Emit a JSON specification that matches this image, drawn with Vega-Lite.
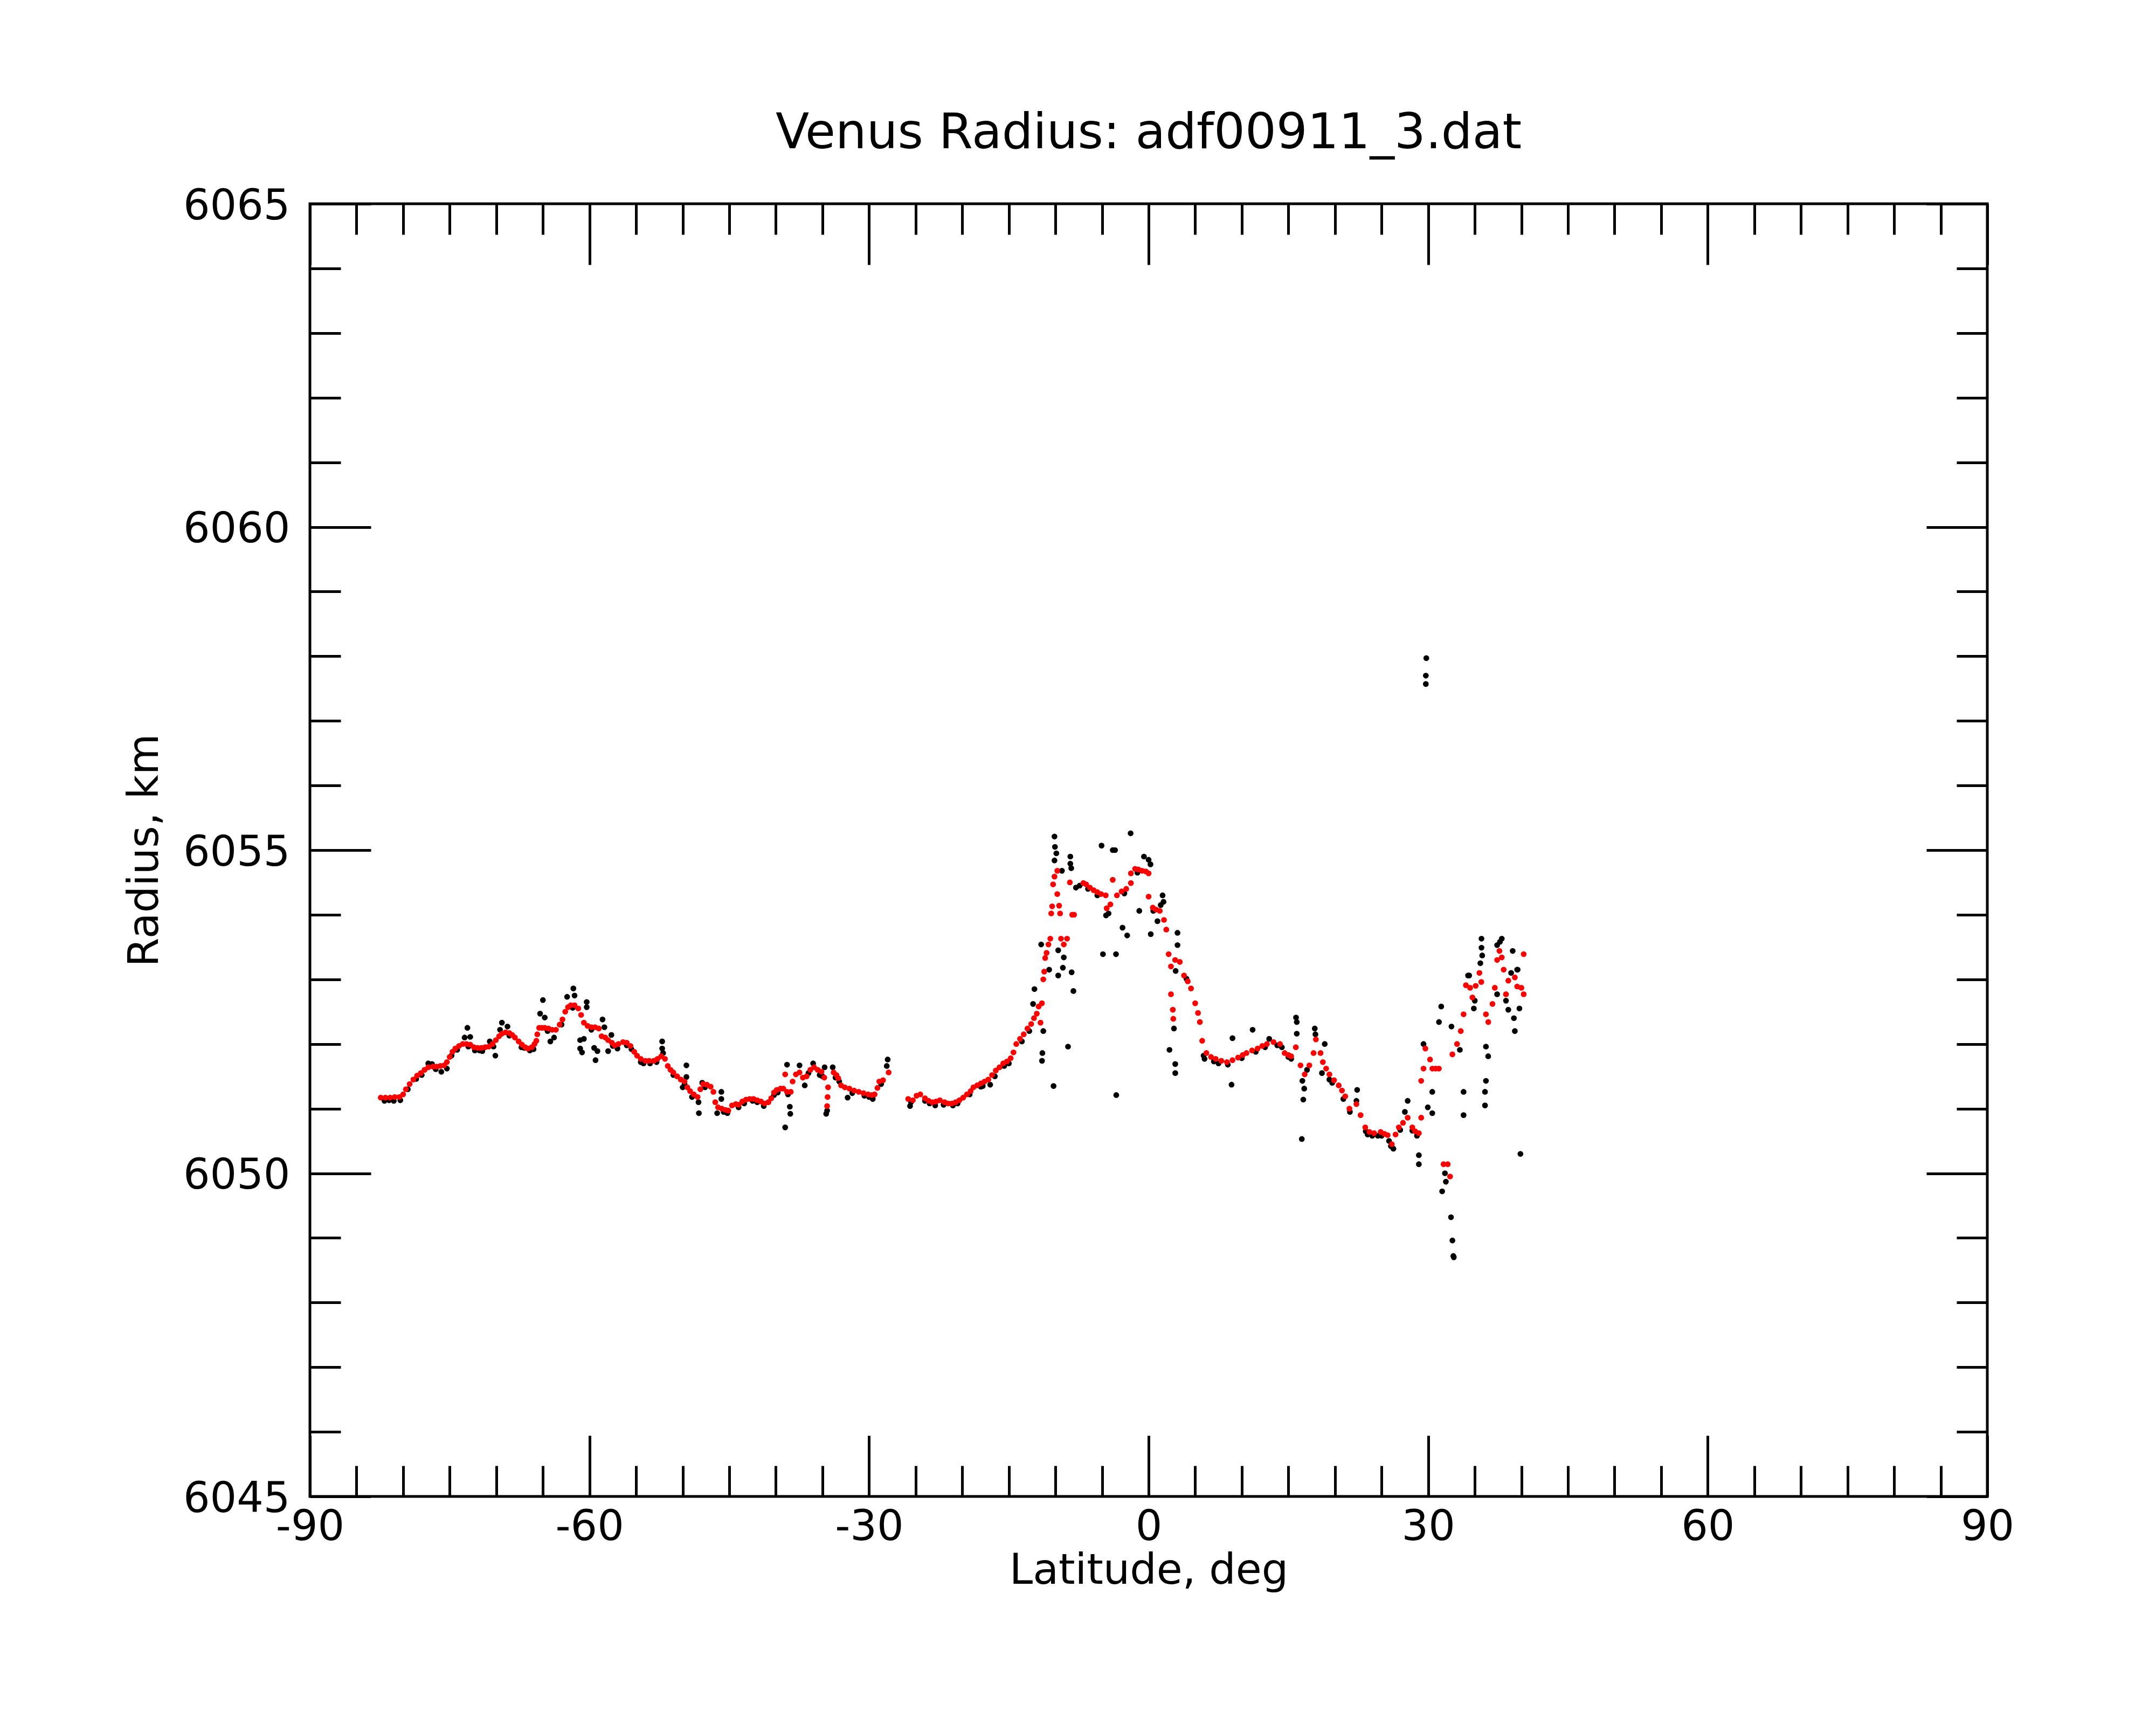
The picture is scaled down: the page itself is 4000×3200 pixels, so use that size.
{
  "$schema": "https://vega.github.io/schema/vega-lite/v6.json",
  "autosize": "none",
  "width": 3112,
  "height": 2398,
  "padding": {"left": 575, "top": 378, "right": 313, "bottom": 424},
  "title": {
    "text": "Venus Radius: adf00911_3.dat",
    "fontSize": 91,
    "font": "DejaVu Sans",
    "fontWeight": "normal",
    "color": "black",
    "anchor": "middle",
    "baseline": "alphabetic",
    "offset": -22
  },
  "datasets": {
    "raw": [
      {"lat": -82.0, "r": 6051.12}, {"lat": -81.5, "r": 6051.13}, {"lat": -81.0, "r": 6051.12}, {"lat": -80.3, "r": 6051.13},
      {"lat": -79.5, "r": 6051.3}, {"lat": -78.6, "r": 6051.46}, {"lat": -78.0, "r": 6051.52}, {"lat": -77.3, "r": 6051.7},
      {"lat": -76.9, "r": 6051.69}, {"lat": -76.5, "r": 6051.61}, {"lat": -75.9, "r": 6051.57}, {"lat": -75.3, "r": 6051.62},
      {"lat": -74.8, "r": 6051.82}, {"lat": -74.2, "r": 6051.91}, {"lat": -73.4, "r": 6052.1}, {"lat": -73.1, "r": 6052.25},
      {"lat": -73.0, "r": 6051.96}, {"lat": -72.8, "r": 6052.11}, {"lat": -72.3, "r": 6051.9}, {"lat": -71.8, "r": 6051.9},
      {"lat": -71.5, "r": 6051.89}, {"lat": -70.7, "r": 6052.04}, {"lat": -70.3, "r": 6051.96}, {"lat": -70.1, "r": 6051.82},
      {"lat": -69.6, "r": 6052.22}, {"lat": -69.4, "r": 6052.33}, {"lat": -68.8, "r": 6052.27}, {"lat": -68.6, "r": 6052.13},
      {"lat": -67.3, "r": 6051.95}, {"lat": -67.0, "r": 6051.94}, {"lat": -66.4, "r": 6051.9}, {"lat": -66.0, "r": 6051.92},
      {"lat": -65.3, "r": 6052.47}, {"lat": -65.0, "r": 6052.68}, {"lat": -64.8, "r": 6052.41}, {"lat": -64.5, "r": 6052.2},
      {"lat": -64.2, "r": 6052.04}, {"lat": -63.8, "r": 6052.1}, {"lat": -63.0, "r": 6052.3}, {"lat": -62.4, "r": 6052.73},
      {"lat": -61.8, "r": 6052.56}, {"lat": -61.73, "r": 6052.86}, {"lat": -61.6, "r": 6052.75}, {"lat": -61.0, "r": 6051.93},
      {"lat": -61.0, "r": 6052.06}, {"lat": -60.8, "r": 6051.87}, {"lat": -60.6, "r": 6052.08}, {"lat": -60.3, "r": 6052.65},
      {"lat": -60.3, "r": 6052.57}, {"lat": -59.8, "r": 6052.22}, {"lat": -59.5, "r": 6051.94}, {"lat": -59.35, "r": 6051.75},
      {"lat": -59.15, "r": 6051.89}, {"lat": -58.6, "r": 6052.38}, {"lat": -58.4, "r": 6052.26}, {"lat": -58.0, "r": 6051.89},
      {"lat": -57.65, "r": 6052.14}, {"lat": -57.5, "r": 6051.97}, {"lat": -57.0, "r": 6051.93}, {"lat": -56.0, "r": 6051.98},
      {"lat": -55.5, "r": 6051.92}, {"lat": -54.5, "r": 6051.72}, {"lat": -54.2, "r": 6051.7}, {"lat": -53.5, "r": 6051.7},
      {"lat": -52.8, "r": 6051.72}, {"lat": -52.2, "r": 6052.04}, {"lat": -52.2, "r": 6051.93}, {"lat": -52.1, "r": 6051.86},
      {"lat": -51.0, "r": 6051.52}, {"lat": -50.0, "r": 6051.33}, {"lat": -49.8, "r": 6051.38}, {"lat": -49.6, "r": 6051.67},
      {"lat": -49.6, "r": 6051.49}, {"lat": -49.0, "r": 6051.18}, {"lat": -48.3, "r": 6051.1}, {"lat": -48.26, "r": 6050.93},
      {"lat": -47.9, "r": 6051.4}, {"lat": -47.6, "r": 6051.33}, {"lat": -46.3, "r": 6050.93}, {"lat": -45.85, "r": 6051.26},
      {"lat": -45.85, "r": 6051.15}, {"lat": -45.6, "r": 6050.95}, {"lat": -45.2, "r": 6050.93}, {"lat": -44.0, "r": 6051.02},
      {"lat": -43.4, "r": 6051.08}, {"lat": -42.5, "r": 6051.12}, {"lat": -42.0, "r": 6051.1}, {"lat": -41.3, "r": 6051.04},
      {"lat": -40.2, "r": 6051.21}, {"lat": -39.8, "r": 6051.25}, {"lat": -39.0, "r": 6050.71}, {"lat": -38.8, "r": 6051.68},
      {"lat": -38.7, "r": 6051.22}, {"lat": -38.5, "r": 6051.03}, {"lat": -38.45, "r": 6050.92}, {"lat": -37.46, "r": 6051.67},
      {"lat": -36.9, "r": 6051.36}, {"lat": -36.5, "r": 6051.55}, {"lat": -36.0, "r": 6051.7}, {"lat": -35.3, "r": 6051.52},
      {"lat": -35.0, "r": 6051.5}, {"lat": -34.77, "r": 6051.64}, {"lat": -34.6, "r": 6050.92}, {"lat": -34.5, "r": 6050.97},
      {"lat": -33.9, "r": 6051.64}, {"lat": -33.6, "r": 6051.48}, {"lat": -33.2, "r": 6051.42}, {"lat": -32.3, "r": 6051.17},
      {"lat": -31.8, "r": 6051.24}, {"lat": -30.5, "r": 6051.2}, {"lat": -30.0, "r": 6051.18}, {"lat": -29.6, "r": 6051.15},
      {"lat": -28.7, "r": 6051.38}, {"lat": -28.1, "r": 6051.66}, {"lat": -28.0, "r": 6051.76},
      {"lat": -25.6, "r": 6051.04}, {"lat": -25.5, "r": 6051.1}, {"lat": -24.0, "r": 6051.12}, {"lat": -23.5, "r": 6051.08},
      {"lat": -22.9, "r": 6051.05}, {"lat": -22.0, "r": 6051.06}, {"lat": -21.0, "r": 6051.05}, {"lat": -20.5, "r": 6051.08},
      {"lat": -19.2, "r": 6051.22}, {"lat": -18.0, "r": 6051.34}, {"lat": -17.8, "r": 6051.35}, {"lat": -17.0, "r": 6051.37},
      {"lat": -16.5, "r": 6051.5}, {"lat": -15.5, "r": 6051.66}, {"lat": -15.0, "r": 6051.7}, {"lat": -13.6, "r": 6052.04},
      {"lat": -12.8, "r": 6052.2}, {"lat": -12.4, "r": 6052.62}, {"lat": -12.25, "r": 6052.85}, {"lat": -11.53, "r": 6053.54},
      {"lat": -11.4, "r": 6051.86}, {"lat": -11.44, "r": 6051.74}, {"lat": -11.3, "r": 6052.2}, {"lat": -10.67, "r": 6053.15},
      {"lat": -10.2, "r": 6051.35}, {"lat": -10.1, "r": 6055.21}, {"lat": -10.05, "r": 6055.05}, {"lat": -9.9, "r": 6054.95},
      {"lat": -10.1, "r": 6054.84}, {"lat": -9.7, "r": 6053.45}, {"lat": -9.7, "r": 6053.06}, {"lat": -9.3, "r": 6054.68},
      {"lat": -9.1, "r": 6053.34}, {"lat": -9.2, "r": 6053.18}, {"lat": -8.65, "r": 6051.96}, {"lat": -8.4, "r": 6054.9},
      {"lat": -8.4, "r": 6054.79}, {"lat": -8.3, "r": 6054.72}, {"lat": -8.26, "r": 6053.11}, {"lat": -8.07, "r": 6052.82},
      {"lat": -7.8, "r": 6054.42}, {"lat": -7.4, "r": 6054.45}, {"lat": -6.5, "r": 6054.4}, {"lat": -5.5, "r": 6054.3},
      {"lat": -5.05, "r": 6055.07}, {"lat": -4.9, "r": 6053.39}, {"lat": -4.57, "r": 6053.99}, {"lat": -4.3, "r": 6054.02},
      {"lat": -3.85, "r": 6055.0}, {"lat": -3.6, "r": 6055.0}, {"lat": -3.5, "r": 6053.39}, {"lat": -3.47, "r": 6051.21},
      {"lat": -2.8, "r": 6053.8}, {"lat": -2.6, "r": 6054.33}, {"lat": -2.3, "r": 6053.68}, {"lat": -1.93, "r": 6055.26},
      {"lat": -1.2, "r": 6054.65}, {"lat": -1.0, "r": 6054.06}, {"lat": -0.5, "r": 6054.9}, {"lat": 0.0, "r": 6054.85},
      {"lat": 0.2, "r": 6054.78}, {"lat": 0.23, "r": 6053.7}, {"lat": 0.5, "r": 6054.06}, {"lat": 0.95, "r": 6053.9},
      {"lat": 1.3, "r": 6054.15}, {"lat": 1.5, "r": 6054.3}, {"lat": 1.6, "r": 6054.2}, {"lat": 2.24, "r": 6051.91},
      {"lat": 2.72, "r": 6052.24}, {"lat": 2.86, "r": 6051.69}, {"lat": 2.86, "r": 6051.55}, {"lat": 2.9, "r": 6053.13},
      {"lat": 3.1, "r": 6053.72}, {"lat": 3.1, "r": 6053.53}, {"lat": 4.06, "r": 6053.01}, {"lat": 5.9, "r": 6051.82},
      {"lat": 6.0, "r": 6051.77}, {"lat": 7.0, "r": 6051.73}, {"lat": 7.5, "r": 6051.7}, {"lat": 8.5, "r": 6051.68},
      {"lat": 8.9, "r": 6051.37}, {"lat": 9.0, "r": 6052.09}, {"lat": 10.0, "r": 6051.78}, {"lat": 11.16, "r": 6052.22},
      {"lat": 11.5, "r": 6051.88}, {"lat": 12.5, "r": 6051.95}, {"lat": 12.94, "r": 6052.08}, {"lat": 13.8, "r": 6051.98},
      {"lat": 14.3, "r": 6051.95}, {"lat": 15.0, "r": 6051.8}, {"lat": 15.3, "r": 6051.77}, {"lat": 15.82, "r": 6052.41},
      {"lat": 15.9, "r": 6052.34}, {"lat": 15.9, "r": 6052.16}, {"lat": 16.5, "r": 6051.43}, {"lat": 16.7, "r": 6051.31},
      {"lat": 16.6, "r": 6051.14}, {"lat": 16.44, "r": 6050.53}, {"lat": 17.0, "r": 6051.6}, {"lat": 17.83, "r": 6052.24},
      {"lat": 17.9, "r": 6052.15}, {"lat": 18.6, "r": 6051.55}, {"lat": 18.9, "r": 6052.0}, {"lat": 19.4, "r": 6051.45},
      {"lat": 19.7, "r": 6051.4}, {"lat": 20.9, "r": 6051.15}, {"lat": 21.6, "r": 6050.95}, {"lat": 22.3, "r": 6051.12},
      {"lat": 22.38, "r": 6051.29}, {"lat": 23.3, "r": 6050.65}, {"lat": 23.5, "r": 6050.6}, {"lat": 24.0, "r": 6050.58},
      {"lat": 24.6, "r": 6050.58}, {"lat": 25.0, "r": 6050.58}, {"lat": 25.8, "r": 6050.5}, {"lat": 26.0, "r": 6050.42},
      {"lat": 26.27, "r": 6050.38}, {"lat": 27.0, "r": 6050.67}, {"lat": 27.5, "r": 6050.95}, {"lat": 27.8, "r": 6051.12},
      {"lat": 28.3, "r": 6050.66}, {"lat": 28.8, "r": 6050.58}, {"lat": 29.0, "r": 6050.28}, {"lat": 29.0, "r": 6050.14},
      {"lat": 29.8, "r": 6057.97}, {"lat": 29.75, "r": 6057.7}, {"lat": 29.75, "r": 6057.57}, {"lat": 29.5, "r": 6052.0},
      {"lat": 29.96, "r": 6051.02}, {"lat": 30.44, "r": 6050.93}, {"lat": 30.44, "r": 6051.26}, {"lat": 31.16, "r": 6052.34},
      {"lat": 31.4, "r": 6052.58}, {"lat": 32.5, "r": 6052.27}, {"lat": 31.5, "r": 6049.72}, {"lat": 31.9, "r": 6049.87},
      {"lat": 31.8, "r": 6050.0}, {"lat": 32.45, "r": 6049.32}, {"lat": 32.6, "r": 6048.96}, {"lat": 32.7, "r": 6048.72},
      {"lat": 32.75, "r": 6048.7}, {"lat": 33.4, "r": 6051.91}, {"lat": 33.8, "r": 6051.26}, {"lat": 33.8, "r": 6050.9},
      {"lat": 34.28, "r": 6053.06}, {"lat": 34.4, "r": 6053.06}, {"lat": 35.0, "r": 6052.67}, {"lat": 34.9, "r": 6052.55},
      {"lat": 35.72, "r": 6053.63}, {"lat": 35.72, "r": 6053.49}, {"lat": 35.8, "r": 6053.37}, {"lat": 35.6, "r": 6053.25},
      {"lat": 36.2, "r": 6051.96}, {"lat": 36.2, "r": 6051.43}, {"lat": 36.1, "r": 6051.26}, {"lat": 36.1, "r": 6051.05},
      {"lat": 36.44, "r": 6051.81}, {"lat": 37.4, "r": 6053.53}, {"lat": 37.9, "r": 6053.63}, {"lat": 37.7, "r": 6053.58},
      {"lat": 37.4, "r": 6052.77}, {"lat": 38.35, "r": 6052.67}, {"lat": 38.6, "r": 6052.53}, {"lat": 38.9, "r": 6053.1},
      {"lat": 39.07, "r": 6053.44}, {"lat": 39.2, "r": 6052.4}, {"lat": 39.3, "r": 6052.2}, {"lat": 39.55, "r": 6053.15},
      {"lat": 39.6, "r": 6053.15}, {"lat": 39.79, "r": 6052.55}, {"lat": 39.9, "r": 6050.3}
    ],
    "smooth": [
      {"lat": -82.4, "r": 6051.17}, {"lat": -81.9, "r": 6051.17}, {"lat": -81.4, "r": 6051.17}, {"lat": -80.9, "r": 6051.18},
      {"lat": -80.4, "r": 6051.18}, {"lat": -80.0, "r": 6051.22}, {"lat": -79.7, "r": 6051.3}, {"lat": -79.3, "r": 6051.38},
      {"lat": -78.9, "r": 6051.45}, {"lat": -78.5, "r": 6051.51}, {"lat": -78.1, "r": 6051.55}, {"lat": -77.7, "r": 6051.6},
      {"lat": -77.3, "r": 6051.64}, {"lat": -76.8, "r": 6051.65}, {"lat": -76.4, "r": 6051.65}, {"lat": -76.0, "r": 6051.66},
      {"lat": -75.6, "r": 6051.67}, {"lat": -75.3, "r": 6051.72}, {"lat": -75.0, "r": 6051.8}, {"lat": -74.7, "r": 6051.88},
      {"lat": -74.4, "r": 6051.93}, {"lat": -74.0, "r": 6051.97}, {"lat": -73.6, "r": 6052.0}, {"lat": -73.2, "r": 6052.0},
      {"lat": -72.8, "r": 6051.99}, {"lat": -72.4, "r": 6051.95}, {"lat": -72.0, "r": 6051.94}, {"lat": -71.6, "r": 6051.94},
      {"lat": -71.2, "r": 6051.95}, {"lat": -70.8, "r": 6051.96}, {"lat": -70.4, "r": 6052.0}, {"lat": -70.05, "r": 6052.06},
      {"lat": -69.7, "r": 6052.12}, {"lat": -69.4, "r": 6052.16}, {"lat": -69.0, "r": 6052.18}, {"lat": -68.6, "r": 6052.17},
      {"lat": -68.3, "r": 6052.14}, {"lat": -68.0, "r": 6052.1}, {"lat": -67.6, "r": 6052.04}, {"lat": -67.25, "r": 6051.99},
      {"lat": -66.9, "r": 6051.95}, {"lat": -66.6, "r": 6051.93}, {"lat": -66.2, "r": 6051.95}, {"lat": -65.9, "r": 6052.0},
      {"lat": -65.7, "r": 6052.05}, {"lat": -65.6, "r": 6052.15}, {"lat": -65.4, "r": 6052.25}, {"lat": -65.1, "r": 6052.25},
      {"lat": -64.8, "r": 6052.25}, {"lat": -64.4, "r": 6052.24}, {"lat": -64.0, "r": 6052.22}, {"lat": -63.6, "r": 6052.22},
      {"lat": -63.2, "r": 6052.3}, {"lat": -62.9, "r": 6052.38}, {"lat": -62.6, "r": 6052.5}, {"lat": -62.3, "r": 6052.57},
      {"lat": -62.0, "r": 6052.6}, {"lat": -61.6, "r": 6052.6}, {"lat": -61.2, "r": 6052.55}, {"lat": -60.9, "r": 6052.45},
      {"lat": -60.6, "r": 6052.33}, {"lat": -60.2, "r": 6052.28}, {"lat": -59.8, "r": 6052.26}, {"lat": -59.4, "r": 6052.26},
      {"lat": -59.0, "r": 6052.24}, {"lat": -58.7, "r": 6052.12}, {"lat": -58.3, "r": 6052.1}, {"lat": -58.0, "r": 6052.06},
      {"lat": -57.6, "r": 6052.02}, {"lat": -57.3, "r": 6051.98}, {"lat": -56.9, "r": 6052.0}, {"lat": -56.4, "r": 6052.03},
      {"lat": -56.0, "r": 6052.02}, {"lat": -55.6, "r": 6051.97}, {"lat": -55.2, "r": 6051.88}, {"lat": -54.9, "r": 6051.82},
      {"lat": -54.5, "r": 6051.77}, {"lat": -54.0, "r": 6051.74}, {"lat": -53.6, "r": 6051.74}, {"lat": -53.1, "r": 6051.74},
      {"lat": -52.7, "r": 6051.77}, {"lat": -52.3, "r": 6051.81}, {"lat": -51.9, "r": 6051.77}, {"lat": -51.6, "r": 6051.66},
      {"lat": -51.3, "r": 6051.6}, {"lat": -51.0, "r": 6051.56}, {"lat": -50.6, "r": 6051.5}, {"lat": -50.2, "r": 6051.45},
      {"lat": -49.8, "r": 6051.42}, {"lat": -49.5, "r": 6051.33}, {"lat": -49.2, "r": 6051.27}, {"lat": -48.8, "r": 6051.22},
      {"lat": -48.4, "r": 6051.18}, {"lat": -48.1, "r": 6051.3}, {"lat": -47.8, "r": 6051.38}, {"lat": -47.4, "r": 6051.37},
      {"lat": -47.0, "r": 6051.34}, {"lat": -46.7, "r": 6051.26}, {"lat": -46.5, "r": 6051.1}, {"lat": -46.2, "r": 6051.02},
      {"lat": -45.8, "r": 6051.0}, {"lat": -45.4, "r": 6050.98}, {"lat": -45.1, "r": 6050.97}, {"lat": -44.7, "r": 6051.05},
      {"lat": -44.3, "r": 6051.07}, {"lat": -44.0, "r": 6051.06}, {"lat": -43.6, "r": 6051.11}, {"lat": -43.2, "r": 6051.14},
      {"lat": -42.8, "r": 6051.15}, {"lat": -42.4, "r": 6051.15}, {"lat": -42.0, "r": 6051.13}, {"lat": -41.6, "r": 6051.11},
      {"lat": -41.2, "r": 6051.08}, {"lat": -40.8, "r": 6051.1}, {"lat": -40.5, "r": 6051.16}, {"lat": -40.2, "r": 6051.25},
      {"lat": -39.9, "r": 6051.29}, {"lat": -39.5, "r": 6051.31}, {"lat": -39.2, "r": 6051.31}, {"lat": -39.0, "r": 6051.53},
      {"lat": -38.8, "r": 6051.26}, {"lat": -38.4, "r": 6051.26}, {"lat": -38.2, "r": 6051.42}, {"lat": -37.85, "r": 6051.53},
      {"lat": -37.46, "r": 6051.56}, {"lat": -37.1, "r": 6051.48}, {"lat": -36.7, "r": 6051.5}, {"lat": -36.3, "r": 6051.6},
      {"lat": -35.9, "r": 6051.64}, {"lat": -35.5, "r": 6051.6}, {"lat": -35.1, "r": 6051.57}, {"lat": -34.8, "r": 6051.48},
      {"lat": -34.4, "r": 6051.33}, {"lat": -34.45, "r": 6051.18}, {"lat": -34.5, "r": 6051.04}, {"lat": -33.8, "r": 6051.56},
      {"lat": -33.5, "r": 6051.52}, {"lat": -33.3, "r": 6051.47}, {"lat": -33.0, "r": 6051.36}, {"lat": -32.6, "r": 6051.33},
      {"lat": -32.1, "r": 6051.31}, {"lat": -31.6, "r": 6051.28}, {"lat": -31.1, "r": 6051.26}, {"lat": -30.6, "r": 6051.24},
      {"lat": -30.1, "r": 6051.22}, {"lat": -29.7, "r": 6051.21}, {"lat": -29.4, "r": 6051.22}, {"lat": -29.1, "r": 6051.32},
      {"lat": -28.9, "r": 6051.42}, {"lat": -28.5, "r": 6051.44}, {"lat": -27.9, "r": 6051.56},
      {"lat": -25.8, "r": 6051.15}, {"lat": -25.3, "r": 6051.13}, {"lat": -24.9, "r": 6051.2}, {"lat": -24.5, "r": 6051.22},
      {"lat": -24.0, "r": 6051.16}, {"lat": -23.6, "r": 6051.12}, {"lat": -23.2, "r": 6051.1}, {"lat": -22.8, "r": 6051.11},
      {"lat": -22.4, "r": 6051.13}, {"lat": -21.9, "r": 6051.1}, {"lat": -21.5, "r": 6051.08}, {"lat": -21.1, "r": 6051.08},
      {"lat": -20.7, "r": 6051.1}, {"lat": -20.3, "r": 6051.13}, {"lat": -19.9, "r": 6051.17}, {"lat": -19.5, "r": 6051.22},
      {"lat": -19.1, "r": 6051.27}, {"lat": -18.8, "r": 6051.33}, {"lat": -18.4, "r": 6051.36}, {"lat": -18.0, "r": 6051.39},
      {"lat": -17.6, "r": 6051.42}, {"lat": -17.2, "r": 6051.45}, {"lat": -16.8, "r": 6051.52}, {"lat": -16.4, "r": 6051.59},
      {"lat": -16.0, "r": 6051.64}, {"lat": -15.6, "r": 6051.7}, {"lat": -15.2, "r": 6051.73}, {"lat": -14.8, "r": 6051.78},
      {"lat": -14.5, "r": 6051.87}, {"lat": -14.2, "r": 6052.0}, {"lat": -13.8, "r": 6052.08}, {"lat": -13.4, "r": 6052.15},
      {"lat": -13.0, "r": 6052.24}, {"lat": -12.6, "r": 6052.31}, {"lat": -12.3, "r": 6052.4}, {"lat": -12.0, "r": 6052.47},
      {"lat": -11.8, "r": 6052.58}, {"lat": -11.6, "r": 6052.33}, {"lat": -11.45, "r": 6052.63}, {"lat": -11.3, "r": 6053.0},
      {"lat": -11.2, "r": 6053.12}, {"lat": -11.1, "r": 6053.33}, {"lat": -10.95, "r": 6053.41}, {"lat": -10.75, "r": 6053.54},
      {"lat": -10.55, "r": 6053.63}, {"lat": -10.45, "r": 6054.02}, {"lat": -10.35, "r": 6054.13}, {"lat": -10.25, "r": 6054.47},
      {"lat": -10.1, "r": 6054.59}, {"lat": -9.8, "r": 6054.68}, {"lat": -9.8, "r": 6054.32}, {"lat": -9.6, "r": 6054.14},
      {"lat": -9.5, "r": 6054.02}, {"lat": -9.4, "r": 6053.63}, {"lat": -9.1, "r": 6053.54}, {"lat": -8.75, "r": 6053.63},
      {"lat": -8.45, "r": 6054.5}, {"lat": -8.2, "r": 6054.0}, {"lat": -8.0, "r": 6054.0}, {"lat": -7.0, "r": 6054.49},
      {"lat": -6.7, "r": 6054.47}, {"lat": -6.3, "r": 6054.42}, {"lat": -5.9, "r": 6054.38}, {"lat": -5.5, "r": 6054.35},
      {"lat": -5.1, "r": 6054.32}, {"lat": -4.6, "r": 6054.3}, {"lat": -4.5, "r": 6054.1}, {"lat": -4.1, "r": 6054.16},
      {"lat": -3.85, "r": 6054.54}, {"lat": -3.4, "r": 6054.3}, {"lat": -2.9, "r": 6054.36}, {"lat": -2.4, "r": 6054.4},
      {"lat": -1.9, "r": 6054.49}, {"lat": -1.9, "r": 6054.64}, {"lat": -1.45, "r": 6054.71}, {"lat": -1.1, "r": 6054.7},
      {"lat": -0.7, "r": 6054.68}, {"lat": -0.3, "r": 6054.67}, {"lat": 0.0, "r": 6054.64}, {"lat": 0.0, "r": 6054.28},
      {"lat": 0.45, "r": 6054.11}, {"lat": 0.8, "r": 6054.08}, {"lat": 1.2, "r": 6054.06}, {"lat": 1.65, "r": 6053.92},
      {"lat": 1.9, "r": 6053.77}, {"lat": 2.15, "r": 6053.39}, {"lat": 2.4, "r": 6053.2}, {"lat": 2.85, "r": 6053.3},
      {"lat": 3.35, "r": 6053.27}, {"lat": 2.4, "r": 6052.77}, {"lat": 2.6, "r": 6052.53}, {"lat": 2.65, "r": 6052.39},
      {"lat": 3.8, "r": 6053.06}, {"lat": 4.2, "r": 6052.97}, {"lat": 4.55, "r": 6052.86}, {"lat": 5.0, "r": 6052.63},
      {"lat": 5.3, "r": 6052.48}, {"lat": 5.5, "r": 6052.34}, {"lat": 5.75, "r": 6052.05}, {"lat": 6.2, "r": 6051.86},
      {"lat": 6.7, "r": 6051.8}, {"lat": 7.2, "r": 6051.77}, {"lat": 7.8, "r": 6051.74}, {"lat": 8.4, "r": 6051.72},
      {"lat": 9.0, "r": 6051.75}, {"lat": 9.6, "r": 6051.79}, {"lat": 10.1, "r": 6051.83}, {"lat": 10.5, "r": 6051.86},
      {"lat": 11.1, "r": 6051.9}, {"lat": 11.7, "r": 6051.93}, {"lat": 12.2, "r": 6051.97}, {"lat": 12.7, "r": 6052.0},
      {"lat": 13.4, "r": 6052.03}, {"lat": 14.1, "r": 6052.0}, {"lat": 14.6, "r": 6051.86}, {"lat": 15.0, "r": 6051.83},
      {"lat": 15.3, "r": 6051.81}, {"lat": 15.8, "r": 6051.95}, {"lat": 16.3, "r": 6051.67}, {"lat": 16.75, "r": 6051.53},
      {"lat": 17.25, "r": 6051.67}, {"lat": 17.7, "r": 6051.86}, {"lat": 17.95, "r": 6052.07}, {"lat": 18.45, "r": 6051.86},
      {"lat": 18.7, "r": 6051.72}, {"lat": 19.05, "r": 6051.62}, {"lat": 19.4, "r": 6051.53}, {"lat": 19.9, "r": 6051.44},
      {"lat": 20.4, "r": 6051.36}, {"lat": 20.75, "r": 6051.28}, {"lat": 21.1, "r": 6051.19}, {"lat": 21.55, "r": 6051.0},
      {"lat": 22.3, "r": 6051.07}, {"lat": 22.75, "r": 6050.9}, {"lat": 23.25, "r": 6050.71}, {"lat": 23.7, "r": 6050.64},
      {"lat": 24.2, "r": 6050.62}, {"lat": 24.9, "r": 6050.64}, {"lat": 25.3, "r": 6050.61}, {"lat": 25.65, "r": 6050.59},
      {"lat": 26.1, "r": 6050.45}, {"lat": 26.5, "r": 6050.6}, {"lat": 26.85, "r": 6050.71}, {"lat": 27.3, "r": 6050.78},
      {"lat": 27.8, "r": 6050.86}, {"lat": 28.3, "r": 6050.71}, {"lat": 28.6, "r": 6050.65}, {"lat": 29.0, "r": 6050.62},
      {"lat": 29.25, "r": 6050.86}, {"lat": 29.25, "r": 6051.43}, {"lat": 29.5, "r": 6051.62}, {"lat": 29.7, "r": 6051.93},
      {"lat": 30.2, "r": 6051.76}, {"lat": 30.45, "r": 6051.62}, {"lat": 30.8, "r": 6051.62}, {"lat": 31.15, "r": 6051.62},
      {"lat": 31.65, "r": 6050.14}, {"lat": 32.1, "r": 6050.14}, {"lat": 32.35, "r": 6049.95}, {"lat": 32.6, "r": 6051.84},
      {"lat": 33.1, "r": 6052.0}, {"lat": 33.5, "r": 6052.2}, {"lat": 33.8, "r": 6052.46}, {"lat": 34.05, "r": 6052.91},
      {"lat": 34.5, "r": 6052.87}, {"lat": 34.75, "r": 6052.72}, {"lat": 35.1, "r": 6052.9}, {"lat": 35.5, "r": 6053.1},
      {"lat": 35.7, "r": 6052.96}, {"lat": 36.2, "r": 6052.46}, {"lat": 36.45, "r": 6052.34}, {"lat": 36.9, "r": 6052.62},
      {"lat": 37.15, "r": 6052.87}, {"lat": 37.4, "r": 6053.3}, {"lat": 37.65, "r": 6053.44}, {"lat": 37.9, "r": 6053.34},
      {"lat": 38.1, "r": 6053.15}, {"lat": 38.35, "r": 6052.77}, {"lat": 38.6, "r": 6052.98}, {"lat": 39.3, "r": 6053.03},
      {"lat": 39.55, "r": 6052.89}, {"lat": 40.0, "r": 6052.87}, {"lat": 40.25, "r": 6053.39}, {"lat": 40.25, "r": 6052.77}
    ]
  },
  "resolve": {
    "scale": {"x": "shared", "y": "shared"},
    "axis": {"x": "independent", "y": "independent"}
  },
  "layer": [
    {
      "data": {"name": "raw"},
      "mark": {"type": "point", "filled": true, "shape": "circle", "size": 115, "color": "#000000", "opacity": 1},
      "encoding": {
        "x": {
          "field": "lat", "type": "quantitative",
          "scale": {"domain": [-90, 90], "nice": false, "zero": false},
          "axis": {
            "orient": "bottom", "values": [-90, -60, -30, 0, 30, 60, 90],
            "tickSize": -113, "labelPadding": 193, "labelBaseline": "alphabetic",
            "labelExpr": "'' + datum.value",
            "title": "Latitude, deg", "titleX": 1556, "titleY": 161,
            "titleAlign": "center", "titleBaseline": "alphabetic"
          }
        },
        "y": {
          "field": "r", "type": "quantitative",
          "scale": {"domain": [6045, 6065], "nice": false, "zero": false},
          "axis": {
            "orient": "left", "values": [6045, 6050, 6055, 6060, 6065],
            "tickSize": -113, "labelPadding": 150, "labelOffset": 5, "labelLimit": 1000,
            "labelExpr": "'' + datum.value",
            "title": "Radius, km", "titleX": -283, "titleY": 1199, "titleAngle": 270,
            "titleAlign": "center", "titleBaseline": "alphabetic"
          }
        }
      }
    },
    {
      "data": {"name": "smooth"},
      "mark": {"type": "point", "filled": true, "shape": "circle", "size": 115, "color": "#ff0000", "opacity": 1},
      "encoding": {
        "x": {
          "field": "lat", "type": "quantitative",
          "scale": {"domain": [-90, 90], "nice": false, "zero": false},
          "axis": {
            "orient": "bottom", "labels": false, "title": null, "tickSize": -57,
            "values": [-85, -80, -75, -70, -65, -55, -50, -45, -40, -35, -25, -20, -15, -10, -5, 5, 10, 15, 20, 25, 35, 40, 45, 50, 55, 65, 70, 75, 80, 85]
          }
        },
        "y": {
          "field": "r", "type": "quantitative",
          "scale": {"domain": [6045, 6065], "nice": false, "zero": false},
          "axis": {
            "orient": "left", "labels": false, "title": null, "tickSize": -57,
            "values": [6046, 6047, 6048, 6049, 6051, 6052, 6053, 6054, 6056, 6057, 6058, 6059, 6061, 6062, 6063, 6064]
          }
        }
      }
    },
    {
      "data": {"name": "smooth"},
      "mark": {"type": "point", "opacity": 0, "size": 0},
      "encoding": {
        "x": {
          "field": "lat", "type": "quantitative",
          "scale": {"domain": [-90, 90], "nice": false, "zero": false},
          "axis": {"orient": "top", "labels": false, "title": null, "tickSize": -113, "values": [-90, -60, -30, 0, 30, 60, 90]}
        },
        "y": {
          "field": "r", "type": "quantitative",
          "scale": {"domain": [6045, 6065], "nice": false, "zero": false},
          "axis": {"orient": "right", "labels": false, "title": null, "tickSize": -113, "values": [6045, 6050, 6055, 6060, 6065]}
        }
      }
    },
    {
      "data": {"name": "smooth"},
      "mark": {"type": "point", "opacity": 0, "size": 0},
      "encoding": {
        "x": {
          "field": "lat", "type": "quantitative",
          "scale": {"domain": [-90, 90], "nice": false, "zero": false},
          "axis": {
            "orient": "top", "labels": false, "title": null, "tickSize": -57,
            "values": [-85, -80, -75, -70, -65, -55, -50, -45, -40, -35, -25, -20, -15, -10, -5, 5, 10, 15, 20, 25, 35, 40, 45, 50, 55, 65, 70, 75, 80, 85]
          }
        },
        "y": {
          "field": "r", "type": "quantitative",
          "scale": {"domain": [6045, 6065], "nice": false, "zero": false},
          "axis": {
            "orient": "right", "labels": false, "title": null, "tickSize": -57,
            "values": [6046, 6047, 6048, 6049, 6051, 6052, 6053, 6054, 6056, 6057, 6058, 6059, 6061, 6062, 6063, 6064]
          }
        }
      }
    }
  ],
  "config": {
    "background": "white",
    "view": {"stroke": "black", "strokeWidth": 5},
    "axis": {
      "grid": false,
      "domain": false,
      "ticks": true,
      "tickColor": "black",
      "tickWidth": 5,
      "labelFont": "DejaVu Sans",
      "labelFontSize": 78,
      "labelColor": "black",
      "labelFlush": false,
      "labelOverlap": false,
      "titleFont": "DejaVu Sans",
      "titleFontSize": 78,
      "titleFontWeight": "normal",
      "titleColor": "black"
    }
  }
}
